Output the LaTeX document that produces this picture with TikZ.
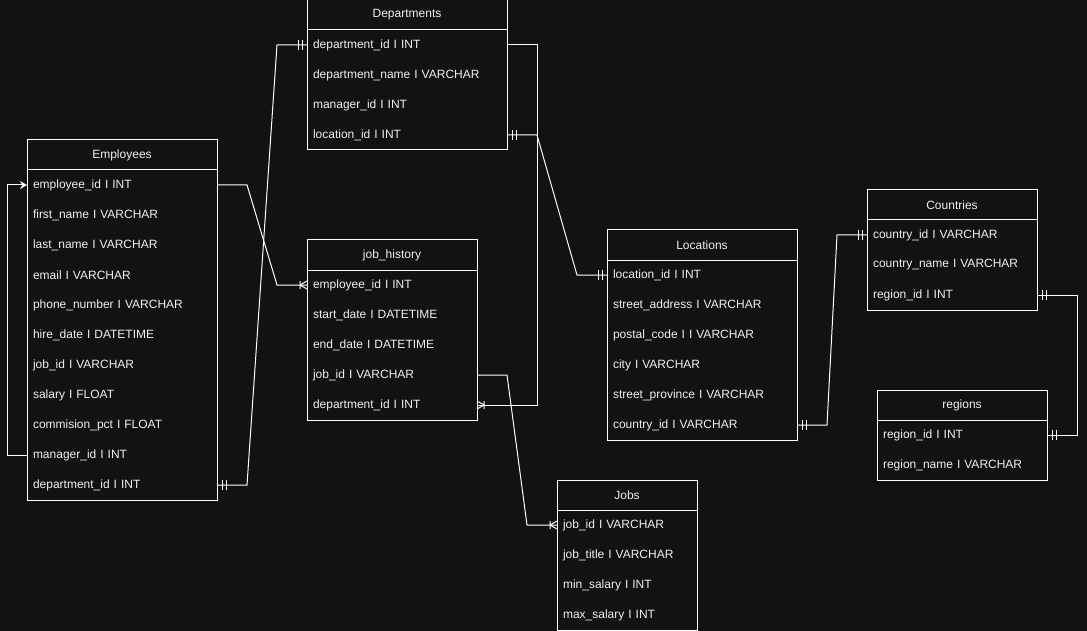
\documentclass[tikz,border=0pt]{standalone}
\usepackage{fontspec}
\setmainfont{Liberation Sans}
\usepackage{tikz}
\usetikzlibrary{arrows.meta, positioning, calc}
\definecolor{bgdark}{HTML}{121212}
\definecolor{txtlight}{HTML}{F0F0F0}

\tikzset{
  mone/.pic={\draw (-5,-5) -- (-5,5) (-9,-5) -- (-9,5);},
  many/.pic={\draw (-7,-4) -- (-7,4) (-7,0) -- (0,-4) (-7,0) -- (0,4);},
}

\begin{document}
\begin{tikzpicture}[
    x=1pt, y=-1pt,
    every node/.style={outer sep=0pt, text=txtlight,
                       font=\fontsize{12}{14}\selectfont},
    hdr/.style={draw=white, line width=1pt, minimum width=#1,
                minimum height=30pt, inner sep=0pt},
    fld/.style={text width=#1, align=left, minimum height=30pt,
                inner xsep=6pt, inner ysep=0pt},
    rel/.style={draw=white, line width=1pt},
  ]
    \fill[bgdark] (0,0) rectangle (1087,631);
    \useasboundingbox (0,0) rectangle (1087,631);
    \tikzset{every pic/.style={draw=white, line width=1pt}}

    % Employees
    \node[hdr=190pt] (empH) at (122,155) {Employees};
    \foreach \n/\t [remember=\n as \p (initially empH)] in {
        empId/employee\_id I INT, empFirst/first\_name I VARCHAR,
        empLast/last\_name I VARCHAR, empMail/email I VARCHAR,
        empPhone/phone\_number I VARCHAR, empHire/hire\_date I DATETIME,
        empJob/job\_id I VARCHAR, empSal/salary I FLOAT,
        empComm/commision\_pct I FLOAT, empMgr/manager\_id I INT,
        empDept/department\_id I INT}
      \node[fld=178pt, below=0pt of \p] (\n) {\t};
    \draw[white, line width=1pt] (empH.south west) rectangle (empDept.south east);

    % Departments
    \node[hdr=200pt] (depH) at (407,15) {Departments};
    \foreach \n/\t [remember=\n as \p (initially depH)] in {
        depId/department\_id I INT, depName/department\_name I VARCHAR,
        depMgr/manager\_id I INT, depLoc/location\_id I INT}
      \node[fld=188pt, below=0pt of \p] (\n) {\t};
    \draw[white, line width=1pt] (depH.south west) rectangle (depLoc.south east);

    % job_history
    \node[hdr=170pt] (jhH) at (392,255) {job\_history};
    \foreach \n/\t [remember=\n as \p (initially jhH)] in {
        jhEmp/employee\_id I INT, jhStart/start\_date I DATETIME,
        jhEnd/end\_date I DATETIME, jhJob/job\_id I VARCHAR,
        jhDept/department\_id I INT}
      \node[fld=158pt, below=0pt of \p] (\n) {\t};
    \draw[white, line width=1pt] (jhH.south west) rectangle (jhDept.south east);

    % Locations
    \node[hdr=190pt] (locH) at (702,245) {Locations};
    \foreach \n/\t [remember=\n as \p (initially locH)] in {
        locId/location\_id I INT, locStreet/street\_address I VARCHAR,
        locPostal/postal\_code I I VARCHAR, locCity/city I VARCHAR,
        locProv/street\_province I VARCHAR, locCountry/country\_id I VARCHAR}
      \node[fld=178pt, below=0pt of \p] (\n) {\t};
    \draw[white, line width=1pt] (locH.south west) rectangle (locCountry.south east);

    % Countries
    \node[hdr=170pt] (ctrH) at (952,205) {Countries};
    \foreach \n/\t [remember=\n as \p (initially ctrH)] in {
        ctrId/country\_id I VARCHAR, ctrName/country\_name I VARCHAR,
        ctrRegion/region\_id I INT}
      \node[fld=158pt, below=0pt of \p] (\n) {\t};
    \draw[white, line width=1pt] (ctrH.south west) rectangle (ctrRegion.south east);

    % regions
    \node[hdr=170pt] (regH) at (962,405) {regions};
    \foreach \n/\t [remember=\n as \p (initially regH)] in {
        regId/region\_id I INT, regName/region\_name I VARCHAR}
      \node[fld=158pt, below=0pt of \p] (\n) {\t};
    \draw[white, line width=1pt] (regH.south west) rectangle (regName.south east);

    % Jobs
    \node[hdr=140pt] (jobH) at (627,495) {Jobs};
    \foreach \n/\t [remember=\n as \p (initially jobH)] in {
        jobId/job\_id I VARCHAR, jobTitle/job\_title I VARCHAR,
        jobMin/min\_salary I INT, jobMax/max\_salary I INT}
      \node[fld=128pt, below=0pt of \p] (\n) {\t};
    \draw[white, line width=1pt] (jobH.south west) rectangle (jobMax.south east);

    % relations
    \draw[rel] (empDept.east) -- ++(30,0) -- ($(depId.west)+(-30,0)$) -- (depId.west);
    \pic[xscale=-1] at (empDept.east) {mone};
    \pic at (depId.west) {mone};

    \draw[rel] (empId.east) -- ++(30,0) -- ($(jhEmp.west)+(-30,0)$) -- (jhEmp.west);
    \pic at (jhEmp.west) {many};

    \draw[rel, -{Stealth[length=7pt, width=8pt]}]
      (empMgr.west) -- ++(-20,0) |- (empId.west);

    \draw[rel] (depLoc.east) -- ++(30,0) -- ($(locId.west)+(-30,0)$) -- (locId.west);
    \pic[xscale=-1] at (depLoc.east) {mone};
    \pic at (locId.west) {mone};

    \draw[rel] (depId.east) -- ++(30,0) |- (jhDept.east);
    \pic[xscale=-1] at (jhDept.east) {many};

    \draw[rel] (jhJob.east) -- ++(30,0) -- ($(jobId.west)+(-30,0)$) -- (jobId.west);
    \pic at (jobId.west) {many};

    \draw[rel] (locCountry.east) -- ++(30,0) -- ($(ctrId.west)+(-30,0)$) -- (ctrId.west);
    \pic[xscale=-1] at (locCountry.east) {mone};
    \pic at (ctrId.west) {mone};

    \draw[rel] (ctrRegion.east) -- ++(40,0) |- (regId.east);
    \pic[xscale=-1] at (ctrRegion.east) {mone};
    \pic[xscale=-1] at (regId.east) {mone};
  \end{tikzpicture}
\end{document}
